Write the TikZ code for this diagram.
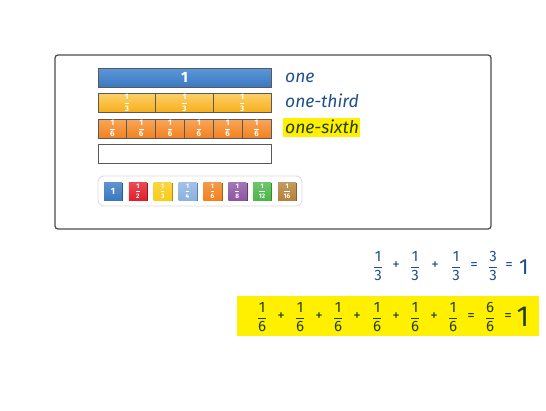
\documentclass[tikz,border=0pt]{standalone}
\usepackage{amsmath}
\usepackage{fontspec}
\setmainfont{Fira Sans}
\definecolor{inkblue}{HTML}{1F4F8A}
\definecolor{inkgreen}{HTML}{243F0A}
\definecolor{hl}{HTML}{FFF000}
\definecolor{bblue}{HTML}{3A78C2}
\definecolor{bbluel}{HTML}{5C97D8}
\definecolor{byel}{HTML}{F7AE1A}
\definecolor{byell}{HTML}{FCD068}
\definecolor{bor}{HTML}{F28120}
\definecolor{borl}{HTML}{F9A65A}
\definecolor{tred}{HTML}{E0202C}
\definecolor{tyel}{HTML}{FBCB16}
\definecolor{tlb}{HTML}{8CB2E0}
\definecolor{tpur}{HTML}{8E55A4}
\definecolor{tgrn}{HTML}{4BB748}
\definecolor{tbrn}{HTML}{B5823A}
\newcommand\fr[2]{$\dfrac{\mbox{#1}}{\mbox{#2}}$}
\tikzset{
  seg/.style={draw=black!65, line width=0.8pt, minimum height=19pt, inner sep=0pt, text=white, font=\fontsize{8}{8}\selectfont\bfseries},
  tile/.style={minimum width=18pt, minimum height=18pt, inner sep=0pt, text=white, font=\fontsize{6.5}{6.5}\selectfont\bfseries},
  lbl/.style={anchor=west, inner sep=1pt, font=\fontsize{17.5}{17.5}\selectfont\itshape, text=inkblue},
  eqa/.style={inner sep=0pt, font=\fontsize{15}{15}\selectfont, text=inkblue},
  eqb/.style={inner sep=0pt, font=\fontsize{15}{15}\selectfont, text=inkgreen}
}
\begin{document}
\begin{tikzpicture}[x=1pt,y=-1pt]
\useasboundingbox (0,0) rectangle (546,410);
% outer frame
\draw[black!70, line width=1.3pt, rounded corners=3pt] (55,55) rectangle (491,229);
% bar one
\node[seg, minimum width=173pt, top color=bbluel, bottom color=bblue, font=\fontsize{15}{15}\selectfont\bfseries] (one) at (184.5,77.5) {1};
% thirds
\foreach \i in {0,1,2}{
  \node[seg, minimum width=57.67pt, top color=byell, bottom color=byel] (third\i) at ({98+57.67*(\i+0.5)},103) {\fr{1}{3}};
}
% sixths
\foreach \i in {0,...,5}{
  \node[seg, minimum width=28.83pt, top color=borl, bottom color=bor] (sixth\i) at ({98+28.83*(\i+0.5)},128.5) {\fr{1}{6}};
}
% empty bar
\node[draw=black!65, line width=0.9pt, fill=white, minimum width=173pt, minimum height=19pt, inner sep=0pt] (empty) at (184.5,153.5) {};
% palette
\node[draw=black!15, line width=0.8pt, rounded corners=6pt, minimum width=204pt, minimum height=30pt] (palette) at (200,191) {};
\foreach \c/\t [count=\k from 0] in {bblue/{\fontsize{9}{9}\selectfont 1}, tred/\fr{1}{2}, tyel/\fr{1}{3}, tlb/\fr{1}{4}, bor/\fr{1}{6}, tpur/\fr{1}{8}, tgrn/\fr{1}{12}, tbrn/\fr{1}{16}}{
  \fill[\c!70!black] ({104+24.86*\k+1.2},183.2) rectangle ({104+24.86*\k+19.2},201.2);
  \node[tile, top color=\c!80!white, bottom color=\c] (tile\k) at ({113+24.86*\k},191) {\t};
}
% labels
\fill[hl] (283,118) rectangle (360,136.5);
\node[lbl] (lone) at (284,78) {one};
\node[lbl] (lthird) at (284,101) {one-third};
\node[lbl, text=inkgreen] (lsixth) at (284,127) {one-sixth};
% equation 1
\foreach \x/\t [count=\k] in {378/\fr{1}{3}, 396/+, 415/\fr{1}{3}, 435/+, 456/\fr{1}{3}, 474/=, 493/\fr{3}{3}, 509/=}{
  \node[eqa] (ea\k) at (\x,266) {\t};
}
\node[eqa, font=\fontsize{22}{22}\selectfont] (ea9) at (524,267) {1};
% equation 2
\fill[hl] (237,296) rectangle (539,336);
\foreach \x/\t [count=\k] in {262/\fr{1}{6}, 281/+, 300/\fr{1}{6}, 319/+, 338/\fr{1}{6}, 357/+, 377/\fr{1}{6}, 396/+, 415/\fr{1}{6}, 434/+, 453/\fr{1}{6}, 471/=, 490/\fr{6}{6}, 508/=}{
  \node[eqb] (eb\k) at (\x,317) {\t};
}
\node[eqb, font=\fontsize{29}{29}\selectfont] (eb15) at (523,317) {1};
\end{tikzpicture}
\end{document}
